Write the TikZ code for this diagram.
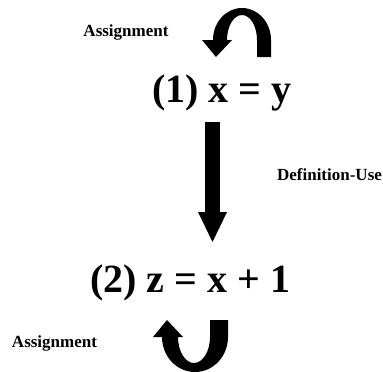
\documentclass[tikz,border=0pt]{standalone}
\usepackage{fontspec}
\setmainfont{Liberation Serif}
\usepackage{tikz}
\usetikzlibrary{arrows.meta,positioning,calc}

\begin{document}
\begin{tikzpicture}[x=1pt,y=1pt,
  stmt/.style={inner sep=0pt,anchor=base,font=\fontsize{40}{44}\selectfont\bfseries},
  lbl/.style={inner sep=0pt,anchor=base,font=\fontsize{17}{19}\selectfont\bfseries},
  thickarrow/.style={line width=15pt,-{Triangle[length=30pt,width=29pt,line width=0pt]}}]
\useasboundingbox (0,0) rectangle (383,-372);
\node[stmt] (S1) at (222,-102) {(1) x = y};
\node[stmt] (S2) at (190,-292) {(2) z = x + 1};
\node[lbl] (A1) at (126,-36) {Assignment};
\node[lbl] (A2) at (54.5,-347) {Assignment};
\node[lbl] (DU) at (329.5,-180) {Definition-Use};
\coordinate (DUtop) at (212.5,-122);
\coordinate (DUtip) at (212.5,-242);
\draw[thickarrow] (DUtop)--(DUtip);
% self loops
\fill (271,-57) -- (271,-40) arc[start angle=0,end angle=180,x radius=29,y radius=32]
  -- (202,-40) -- (216,-57) -- (232,-40) -- (227,-40)
  arc[start angle=180,end angle=0,x radius=15,y radius=25] -- (257,-57) -- cycle;
\fill (228,-320) -- (228,-337) arc[start angle=0,end angle=-180,x radius=33,y radius=35]
  -- (153,-337) -- (167,-320) -- (183,-337) -- (178,-337)
  arc[start angle=180,end angle=360,x radius=16,y radius=26] -- (210,-320) -- cycle;
\end{tikzpicture}
\end{document}
